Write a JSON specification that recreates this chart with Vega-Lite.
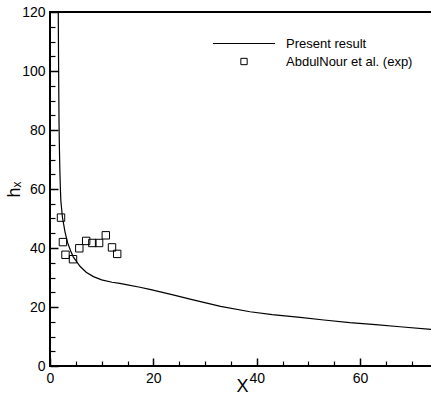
{
  "$schema": "https://vega.github.io/schema/vega-lite/v6.json",
  "autosize": {"type": "none"},
  "padding": {"left": 50, "top": 12, "right": 0, "bottom": 34},
  "width": 384,
  "height": 354,
  "background": "white",
  "config": {
    "view": {"stroke": "black", "strokeWidth": 2},
    "font": "Liberation Sans, DejaVu Sans, sans-serif",
    "axis": {
      "zindex": 1,
      "domain": false,
      "ticks": true,
      "tickOpacity": 1,
      "tickColor": "black",
      "grid": false,
      "labelColor": "black",
      "titleColor": "black",
      "labelFont": "Liberation Sans, DejaVu Sans, sans-serif",
      "titleFont": "Liberation Sans, DejaVu Sans, sans-serif",
      "labelFontSize": 14,
      "titleFontSize": 18,
      "titleFontWeight": "normal"
    }
  },
  "datasets": {
    "curve": [
      {"x": 1.6, "y": 120, "series": "Present result"},
      {"x": 1.65, "y": 105, "series": "Present result"},
      {"x": 1.7, "y": 93, "series": "Present result"},
      {"x": 1.75, "y": 82, "series": "Present result"},
      {"x": 1.82, "y": 74, "series": "Present result"},
      {"x": 1.9, "y": 67, "series": "Present result"},
      {"x": 2.0, "y": 60.5, "series": "Present result"},
      {"x": 2.1, "y": 56, "series": "Present result"},
      {"x": 2.4, "y": 50.5, "series": "Present result"},
      {"x": 2.9, "y": 45.5, "series": "Present result"},
      {"x": 3.4, "y": 41.8, "series": "Present result"},
      {"x": 4.0, "y": 39, "series": "Present result"},
      {"x": 4.5, "y": 37, "series": "Present result"},
      {"x": 5.8, "y": 33.8, "series": "Present result"},
      {"x": 7.0, "y": 31.8, "series": "Present result"},
      {"x": 8.4, "y": 30.3, "series": "Present result"},
      {"x": 10.0, "y": 29.2, "series": "Present result"},
      {"x": 12.0, "y": 28.4, "series": "Present result"},
      {"x": 13.5, "y": 28.0, "series": "Present result"},
      {"x": 15.0, "y": 27.5, "series": "Present result"},
      {"x": 17.4, "y": 26.7, "series": "Present result"},
      {"x": 19.3, "y": 26.0, "series": "Present result"},
      {"x": 23.8, "y": 24.1, "series": "Present result"},
      {"x": 27.7, "y": 22.4, "series": "Present result"},
      {"x": 33.0, "y": 20.2, "series": "Present result"},
      {"x": 38.7, "y": 18.4, "series": "Present result"},
      {"x": 43.0, "y": 17.4, "series": "Present result"},
      {"x": 48.4, "y": 16.5, "series": "Present result"},
      {"x": 53.0, "y": 15.6, "series": "Present result"},
      {"x": 58.0, "y": 14.7, "series": "Present result"},
      {"x": 63.0, "y": 14.0, "series": "Present result"},
      {"x": 67.7, "y": 13.3, "series": "Present result"},
      {"x": 74.3, "y": 12.3, "series": "Present result"}
    ],
    "exp": [
      {"x": 2.13, "y": 50.3, "series": "AbdulNour et al. (exp)"},
      {"x": 2.5, "y": 42.0, "series": "AbdulNour et al. (exp)"},
      {"x": 3.0, "y": 37.7, "series": "AbdulNour et al. (exp)"},
      {"x": 4.45, "y": 36.2, "series": "AbdulNour et al. (exp)"},
      {"x": 5.67, "y": 39.9, "series": "AbdulNour et al. (exp)"},
      {"x": 7.0, "y": 42.4, "series": "AbdulNour et al. (exp)"},
      {"x": 8.2, "y": 41.7, "series": "AbdulNour et al. (exp)"},
      {"x": 9.5, "y": 41.7, "series": "AbdulNour et al. (exp)"},
      {"x": 10.8, "y": 44.3, "series": "AbdulNour et al. (exp)"},
      {"x": 12.0, "y": 40.2, "series": "AbdulNour et al. (exp)"},
      {"x": 13.0, "y": 38.0, "series": "AbdulNour et al. (exp)"}
    ]
  },
  "resolve": {"axis": {"x": "independent", "y": "independent"}},
  "layer": [
    {
      "data": {"name": "curve"},
      "mark": {"type": "line", "strokeWidth": 1.2, "clip": true, "color": "black"},
      "encoding": {
        "x": {
          "field": "x",
          "type": "quantitative",
          "title": "X",
          "scale": {"domain": [0, 74.3], "nice": false, "zero": false},
          "axis": {
            "orient": "bottom",
            "values": [0, 20, 40, 60],
            "ticks": true,
            "tickSize": 8,
            "tickWidth": 1.5,
            "offset": -8,
            "labelPadding": 5,
            "titlePadding": -8,
            "labelFlush": false,
            "labelOverlap": false
          }
        },
        "y": {
          "field": "y",
          "type": "quantitative",
          "title": "hₓ",
          "scale": {"domain": [0, 120], "nice": false},
          "axis": {
            "orient": "left",
            "values": [0, 20, 40, 60, 80, 100, 120],
            "ticks": true,
            "tickSize": 8,
            "tickWidth": 1.5,
            "offset": -8,
            "labelPadding": 5,
            "titlePadding": -2,
            "labelFlush": false,
            "labelOverlap": false
          }
        },
        "color": {
          "field": "series",
          "type": "nominal",
          "scale": {"domain": ["Present result", "AbdulNour et al. (exp)"], "range": ["black", "black"]},
          "legend": {
            "title": null,
            "orient": "none",
            "legendX": 163,
            "legendY": 24,
            "padding": 0,
            "labelFontSize": 13,
            "labelFont": "Liberation Sans, DejaVu Sans, sans-serif",
            "labelColor": "black",
            "rowPadding": 3,
            "clipHeight": 15,
            "encode": {
              "symbols": {
                "update": {
                  "x": {"value": 31},
                  "shape": {"signal": "datum.value === 'Present result' ? 'stroke' : 'square'"},
                  "size": {"signal": "datum.value === 'Present result' ? 3844 : 40"},
                  "fill": {"value": "transparent"},
                  "stroke": {"value": "black"},
                  "strokeWidth": {"value": 1},
                  "opacity": {"value": 1}
                }
              },
              "labels": {
                "update": {
                  "x": {"value": 73}
                }
              }
            }
          }
        }
      }
    },
    {
      "data": {"name": "exp"},
      "mark": {"type": "point", "shape": "square", "filled": false, "size": 55, "strokeWidth": 1, "opacity": 1},
      "encoding": {
        "x": {
          "field": "x",
          "type": "quantitative",
          "axis": {
            "orient": "bottom",
            "values": [5, 10, 15, 25, 30, 35, 45, 50, 55, 65, 70],
            "ticks": true,
            "tickSize": 5,
            "tickWidth": 1.2,
            "offset": -5,
            "labels": false,
            "title": null
          }
        },
        "y": {
          "field": "y",
          "type": "quantitative",
          "axis": {
            "orient": "left",
            "values": [5, 10, 15, 25, 30, 35, 45, 50, 55, 65, 70, 75, 85, 90, 95, 105, 110, 115],
            "ticks": true,
            "tickSize": 5,
            "tickWidth": 1.2,
            "offset": -5,
            "labels": false,
            "title": null
          }
        },
        "color": {"field": "series", "type": "nominal"}
      }
    }
  ]
}
